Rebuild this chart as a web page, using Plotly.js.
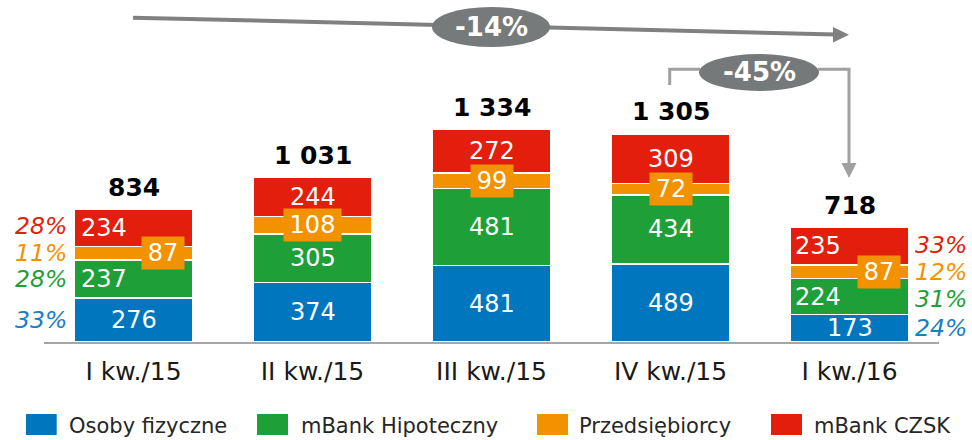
<!DOCTYPE html>
<html>
<head>
<meta charset="utf-8">
<script src="https://cdn.plot.ly/plotly-3.0.1.min.js"></script>
<style>html,body{margin:0;padding:0;background:#fff;}#chart{width:972px;height:440px;}</style>
</head>
<body>
<div id="chart"></div>
<script>
// ---- data ----
const categories = ['I kw./15', 'II kw./15', 'III kw./15', 'IV kw./15', 'I kw./16'];
const seriesNames = ['Osoby fizyczne', 'mBank Hipoteczny', 'Przedsiębiorcy', 'mBank CZSK'];
const osobyFizyczne = [276, 374, 481, 489, 173];
const mBankHipoteczny = [237, 305, 481, 434, 224];
const przedsiebiorcy = [87, 108, 99, 72, 87];
const mBankCZSK = [234, 244, 272, 309, 235];
const totals = [834, 1031, 1334, 1305, 718];
const totalLabels = ['834', '1 031', '1 334', '1 305', '718'];
const sharesFirst = [33, 28, 11, 28];   // I kw./15, per series
const sharesLast = [24, 31, 12, 33];    // I kw./16, per series
const changeLong = '-14%';
const changeShort = '-45%';

// ---- styles ----
const colors = ['#0076BE', '#1E9F37', '#F39200', '#E31E0D'];
const pctColors = ['#1A7EC3', '#1E9F37', '#F39200', '#E31E0D'];
const pctShiftFirst = [0, 0, 0, 1.5];
const pctShiftLast = [0, -2, 0, 1.5];
const FONT = 'DejaVu Sans, Verdana, sans-serif';
const W = 972, H = 440;
const M = {l: 44, r: 33, t: 20, b: 98};
const PW = W - M.l - M.r, PH = H - M.t - M.b;
const px = x => (x - M.l) / PW;
const py = y => (H - M.b - y) / PH;

const series = [osobyFizyczne, mBankHipoteczny, przedsiebiorcy, mBankCZSK];

const traces = series.map((vals, s) => ({
  type: 'bar',
  name: seriesNames[s],
  x: categories,
  y: vals,
  marker: {color: colors[s], line: {color: '#ffffff', width: 1.5}},
  showlegend: false,
  hoverinfo: 'skip'
}));

const annotations = [];
const cum = categories.map(() => 0);
series.forEach((vals, s) => {
  vals.forEach((v, i) => {
    const mid = cum[i] + v / 2;
    const edge = (i === 0 || i === categories.length - 1);
    const a = {
      x: categories[i], y: mid, xref: 'x', yref: 'y',
      text: String(v), showarrow: false,
      font: {family: FONT, size: 24, color: '#ffffff'},
      yanchor: 'middle'
    };
    if (s === 2) {
      a.bgcolor = colors[2];
      a.height = 32;
      a.width = String(v).length * 15 + 12;
      a.borderpad = 0;
      a.xanchor = 'center';
      if (edge) a.xshift = 29;
    } else if (s !== 0 && edge) {
      a.xanchor = 'left';
      a.xshift = i === 0 ? -55 : -57;
    } else {
      a.xanchor = 'center';
    }
    annotations.push(a);
    // shares
    if (i === 0) {
      annotations.push({x: categories[i], y: mid, xref: 'x', yref: 'y', text: sharesFirst[s] + '%',
        showarrow: false, xanchor: 'right', yanchor: 'middle', xshift: -66, yshift: pctShiftFirst[s],
        height: 22, borderpad: 0,
        font: {family: FONT, size: 23.5, color: pctColors[s], style: 'italic'}});
    }
    if (i === categories.length - 1) {
      annotations.push({x: categories[i], y: mid, xref: 'x', yref: 'y', text: sharesLast[s] + '%',
        showarrow: false, xanchor: 'left', yanchor: 'middle', xshift: 64, yshift: pctShiftLast[s],
        height: 22, borderpad: 0,
        font: {family: FONT, size: 23.5, color: pctColors[s], style: 'italic'}});
    }
    cum[i] += v;
  });
});

// totals
totals.forEach((t, i) => {
  annotations.push({x: categories[i], y: t, xref: 'x', yref: 'y', text: '<b>' + totalLabels[i] + '</b>',
    showarrow: false, xanchor: 'center', yanchor: 'middle', yshift: 22,
    font: {family: FONT, size: 25, color: '#000000'}});
});

// change labels
annotations.push({x: px(491), y: py(27), xref: 'paper', yref: 'paper', text: '<b>' + changeLong + '</b>',
  showarrow: false, xanchor: 'center', yanchor: 'middle', font: {family: FONT, size: 26, color: '#ffffff'}});
annotations.push({x: px(759), y: py(72), xref: 'paper', yref: 'paper', text: '<b>' + changeShort + '</b>',
  showarrow: false, xanchor: 'center', yanchor: 'middle', font: {family: FONT, size: 26, color: '#ffffff'}});

// legend
const legendX = [[26, 56.7, 68], [257, 288, 300], [537, 568, 578], [771, 802, 813]];
const shapes = [];
seriesNames.forEach((n, s) => {
  const [x0, x1, tx] = legendX[s];
  shapes.push({type: 'rect', xref: 'paper', yref: 'paper', x0: px(x0), x1: px(x1), y0: py(435), y1: py(414),
    fillcolor: colors[s], line: {width: 0}});
  annotations.push({x: px(tx - 1), y: py(425.5), xref: 'paper', yref: 'paper', text: n, showarrow: false,
    xanchor: 'left', yanchor: 'middle', font: {family: FONT, size: 21, color: '#262626'}});
});

// long arrow
const gray = '#808080';
shapes.push({type: 'line', xref: 'paper', yref: 'paper', x0: px(133), y0: py(17.7), x1: px(836), y1: py(34.4),
  line: {color: gray, width: 4}});
shapes.push({type: 'path', xref: 'paper', yref: 'paper',
  path: `M${px(833)},${py(27)} L${px(849)},${py(34.8)} L${px(833)},${py(42.5)} Z`,
  fillcolor: gray, line: {width: 0}});
shapes.push({type: 'circle', xref: 'paper', yref: 'paper', x0: px(432), x1: px(550), y0: py(47), y1: py(7),
  fillcolor: '#767A7A', line: {width: 0}});

// bracket arrow
const lg = '#A0A0A0';
shapes.push({type: 'path', xref: 'paper', yref: 'paper',
  path: `M${px(669.7)},${py(85)} L${px(669.7)},${py(69.3)} L${px(700)},${py(69.3)}`,
  line: {color: lg, width: 3}});
shapes.push({type: 'path', xref: 'paper', yref: 'paper',
  path: `M${px(818)},${py(69.3)} L${px(849)},${py(69.3)} L${px(849)},${py(165)}`,
  line: {color: lg, width: 3}});
shapes.push({type: 'path', xref: 'paper', yref: 'paper',
  path: `M${px(841.5)},${py(163)} L${px(856.5)},${py(163)} L${px(849)},${py(178)} Z`,
  fillcolor: lg, line: {width: 0}});
shapes.push({type: 'circle', xref: 'paper', yref: 'paper', x0: px(699), x1: px(819), y0: py(91), y1: py(54),
  fillcolor: '#757979', line: {width: 0}});

const layout = {
  width: W, height: H,
  margin: M,
  paper_bgcolor: '#ffffff', plot_bgcolor: '#ffffff',
  font: {family: FONT, color: '#1a1a1a'},
  barmode: 'stack',
  bargap: 0.34,
  showlegend: false,
  xaxis: {type: 'category', range: [-0.5, 4.5], showline: true, linecolor: '#A6A6A6', linewidth: 2,
    ticks: '', showgrid: false, zeroline: false, tickfont: {family: FONT, size: 25, color: '#1a1a1a'},
    ticklabelstandoff: 6},
  yaxis: {range: [0, PH / 0.1594], visible: false, showgrid: false, zeroline: false},
  annotations: annotations,
  shapes: shapes
};

Plotly.newPlot('chart', traces, layout, {staticPlot: true, displayModeBar: false});
</script>
</body>
</html>
